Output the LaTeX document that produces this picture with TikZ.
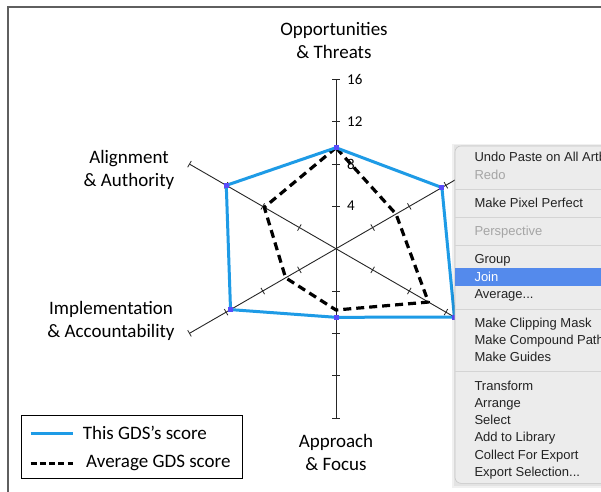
\documentclass[tikz,border=0pt]{standalone}
\usepackage{fontspec}
\setmainfont{Carlito}
\newfontfamily\menufont{Liberation Sans}
\definecolor{gdsblue}{RGB}{30,155,230}
\definecolor{markc}{RGB}{90,75,250}
\definecolor{menubg}{RGB}{236,236,236}
\definecolor{menuline}{RGB}{212,212,212}
\definecolor{hilite}{RGB}{84,138,236}
\definecolor{dimtext}{RGB}{165,165,165}
\definecolor{framec}{RGB}{95,95,95}
\definecolor{menutext}{RGB}{35,35,35}
\tikzset{
  axisline/.style={line width=0.9pt, black!85},
  tickmark/.style={line width=0.8pt, black!85},
  bluepoly/.style={gdsblue, line width=3pt, line join=round},
  avgpoly/.style={black, line width=3.2pt, dash pattern=on 8pt off 5pt, line join=round},
  ptmark/.style={fill=markc, minimum size=5pt, inner sep=0pt, draw=none},
  catlabel/.style={font=\fontsize{19}{23}\selectfont, align=center, inner sep=0pt},
  ticklabel/.style={font=\fontsize{15}{15}\selectfont, anchor=west, inner sep=0pt},
  legtext/.style={font=\fontsize{19}{23}\selectfont, anchor=west, inner sep=0pt},
  menuitem/.style={font=\menufont\fontsize{13}{15}\selectfont, anchor=base west, inner sep=0pt, text=menutext},
  menudim/.style={menuitem, text=dimtext},
  menusep/.style={menuline, line width=1pt}
}
\begin{document}
\begin{tikzpicture}[x=1pt,y=1pt]
\useasboundingbox (0,0) rectangle (601,-491);
\fill[white] (0,0) rectangle (601,-491);
% outer frame
\draw[framec, line width=1.3pt] (8,-495) -- (8,-7) -- (605,-7);

% radar chart
\coordinate (C) at (336,-248.7);
\begin{scope}[shift={(C)}]
  \foreach \a in {90,30,150} {
    \draw[axisline] (\a:169) -- (\a+180:169);
    \foreach \k in {1,2,3,4} {
      \draw[tickmark] (\a:\k*42.3) ++(\a+90:3.6) -- ++(\a-90:7.2);
      \draw[tickmark] (\a+180:\k*42.3) ++(\a+90:3.6) -- ++(\a-90:7.2);
    }
  }
  % data points
  \coordinate (b1) at (90:101);
  \coordinate (b2) at (150:126.7);
  \coordinate (b3) at (210:121.8);
  \coordinate (b4) at (270:68.6);
  \coordinate (b5) at (330:136.7);
  \coordinate (b6) at (30:122.3);
  \coordinate (a1) at (90:101);
  \coordinate (a2) at (150:82.8);
  \coordinate (a3) at (210:58.2);
  \coordinate (a4) at (270:61.3);
  \coordinate (a5) at (330:106.7);
  \coordinate (a6) at (30:69.3);
\end{scope}

% tick labels
\node[ticklabel] (t16) at (347,-79) {16};
\node[ticklabel] (t12) at (347,-121.7) {12};
\node[ticklabel] (t8) at (347,-164) {8};
\node[ticklabel] (t4) at (347,-206) {4};

% polygons
\draw[avgpoly] (a1) -- (a2) -- (a3) -- (a4) -- (a5) -- (a6) -- cycle;
\draw[bluepoly] (b1) -- (b2) -- (b3) -- (b4) -- (b5) -- (b6) -- cycle;
\foreach \p in {b1,b2,b3,b4,b5,b6} \node[ptmark] at (\p) {};

% category labels
\node[catlabel] (opp) at (334,-40) {Opportunities\\\& Threats};
\node[catlabel] (ali) at (129,-170) {Alignment\\\& Authority};
\node[catlabel] (imp) at (111,-320.8) {Implementation\\\& Accountability};
\node[catlabel] (app) at (336,-452.5) {Approach\\\& Focus};

% legend
\node[draw=black, line width=0.9pt, minimum width=220.4pt, minimum height=63.3pt, inner sep=0pt, anchor=north west] (leg) at (21.3,-415) {};
\coordinate (l1a) at (30.7,-433.3);
\coordinate (l1b) at (72.7,-433.3);
\coordinate (l2a) at (30.7,-463.3);
\coordinate (l2b) at (72.7,-463.3);
\draw[gdsblue, line width=3pt] (l1a) -- (l1b);
\draw[black, line width=3pt, dash pattern=on 6pt off 3.2pt] (l2a) -- (l2b);
\node[legtext] (lt1) at (82.7,-433.3) {This GDS’s score};
\node[legtext] (lt2) at (86,-463.3) {Average GDS score};

% context menu
\begin{scope}
  \clip (0,0) rectangle (601,-491);
  \fill[black, opacity=0.06] (452,-144) rectangle (640,-488);
  \fill[black, opacity=0.05] (453.5,-145) rectangle (640,-486);
  \filldraw[fill=menubg, draw=black!22, line width=0.6pt, rounded corners=6pt] (455,-146) rectangle (640,-483.3);
  \fill[hilite] (455.3,-268.3) rectangle (640,-285.7);
  \foreach \y in {189.3,217.3,245.7,309.3,371.7}
    \draw[menusep] (455.3,-\y) -- (640,-\y);
  \node[menuitem] (m1) at (474.3,-161.2) {Undo Paste on All Artb};
  \node[menudim] (m2) at (474.3,-179.5) {Redo};
  \node[menuitem] (m3) at (474.3,-207.2) {Make Pixel Perfect};
  \node[menudim] (m4) at (474.3,-235.5) {Perspective};
  \node[menuitem] (m5) at (474.3,-263.8) {Group};
  \node[menuitem, text=white] (m6) at (474.3,-281.2) {Join};
  \node[menuitem] (m7) at (474.3,-298.8) {Average...};
  \node[menuitem] (m8) at (474.3,-327.2) {Make Clipping Mask};
  \node[menuitem] (m9) at (474.3,-344.5) {Make Compound Path};
  \node[menuitem] (m10) at (474.3,-361.8) {Make Guides};
  \node[menuitem] (m11) at (474.3,-390.2) {Transform};
  \node[menuitem] (m12) at (474.3,-407.8) {Arrange};
  \node[menuitem] (m13) at (474.3,-424.5) {Select};
  \node[menuitem] (m14) at (474.3,-441.8) {Add to Library};
  \node[menuitem] (m15) at (474.3,-459.2) {Collect For Export};
  \node[menuitem] (m16) at (474.3,-476.8) {Export Selection...};
\end{scope}
\end{tikzpicture}
\end{document}
